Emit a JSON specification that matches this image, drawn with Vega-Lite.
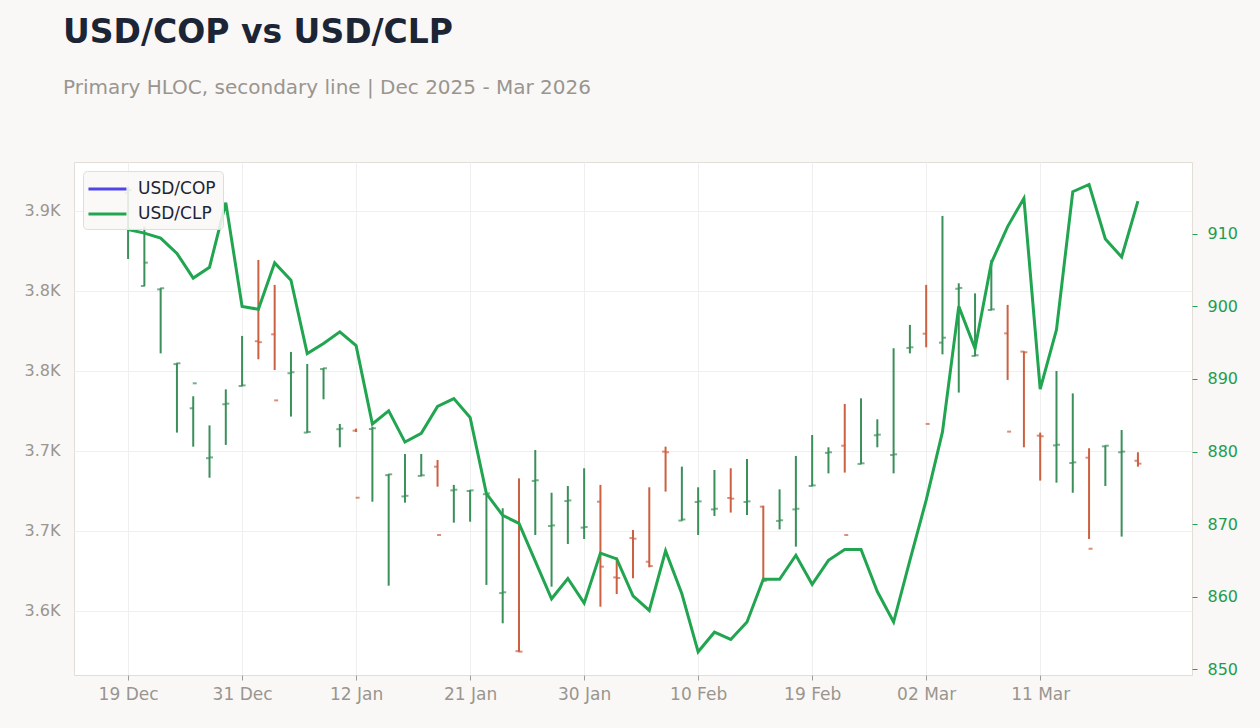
{
  "$schema": "https://vega.github.io/schema/vega-lite/v6.json",
  "width": 1118,
  "height": 513,
  "autosize": {"type": "none"},
  "padding": {"left": 74, "top": 162, "right": 68, "bottom": 53},
  "background": "#f9f8f6",
  "title": {
    "text": "USD/COP vs USD/CLP",
    "subtitle": "Primary HLOC, secondary line | Dec 2025 - Mar 2026",
    "anchor": "start",
    "frame": "group",
    "dx": -11,
    "offset": 64,
    "font": "DejaVu Sans",
    "fontSize": 33,
    "fontWeight": "bold",
    "color": "#1c2535",
    "subtitleFont": "DejaVu Sans",
    "subtitleFontSize": 20,
    "subtitleColor": "#9a958f",
    "subtitlePadding": 28
  },
  "config": {
    "view": {"fill": "#ffffff", "stroke": "#e2ded7", "strokeWidth": 1},
    "font": "DejaVu Sans"
  },
  "data": {
    "values": [
      {"date": "2025-12-19", "open": 3911.3, "high": 3915.2, "low": 3870.0, "close": 3913.1, "clp": 910.6},
      {"date": "2025-12-22", "open": 3853.1, "high": 3890.2, "low": 3853.1, "close": 3867.7, "clp": 910.1},
      {"date": "2025-12-23", "open": 3851.0, "high": 3851.7, "low": 3811.0, "close": 3851.7, "clp": 909.4},
      {"date": "2025-12-24", "open": 3804.3, "high": 3804.8, "low": 3761.5, "close": 3804.8, "clp": 907.3},
      {"date": "2025-12-26", "open": 3776.7, "high": 3784.2, "low": 3752.7, "close": 3792.3, "clp": 903.9},
      {"date": "2025-12-29", "open": 3745.5, "high": 3766.0, "low": 3733.3, "close": 3746.0, "clp": 905.4},
      {"date": "2025-12-30", "open": 3779.2, "high": 3788.5, "low": 3753.8, "close": 3779.6, "clp": 914.3},
      {"date": "2025-12-31", "open": 3790.6, "high": 3821.9, "low": 3790.6, "close": 3791.0, "clp": 900.0},
      {"date": "2026-01-02", "open": 3818.6, "high": 3869.4, "low": 3807.3, "close": 3818.0, "clp": 899.6},
      {"date": "2026-01-05", "open": 3822.9, "high": 3853.8, "low": 3800.6, "close": 3781.6, "clp": 906.0},
      {"date": "2026-01-06", "open": 3798.6, "high": 3811.9, "low": 3771.5, "close": 3799.2, "clp": 903.6},
      {"date": "2026-01-07", "open": 3761.5, "high": 3804.4, "low": 3761.5, "close": 3761.9, "clp": 893.5},
      {"date": "2026-01-08", "open": 3801.2, "high": 3801.7, "low": 3782.3, "close": 3801.7, "clp": 894.9},
      {"date": "2026-01-09", "open": 3763.6, "high": 3766.9, "low": 3752.3, "close": 3764.0, "clp": 896.5},
      {"date": "2026-01-12", "open": 3762.7, "high": 3764.0, "low": 3761.9, "close": 3720.8, "clp": 894.6},
      {"date": "2026-01-13", "open": 3763.7, "high": 3765.2, "low": 3718.3, "close": 3764.2, "clp": 883.8},
      {"date": "2026-01-14", "open": 3734.9, "high": 3735.4, "low": 3665.8, "close": 3735.4, "clp": 885.6},
      {"date": "2026-01-15", "open": 3721.6, "high": 3748.1, "low": 3717.7, "close": 3722.0, "clp": 881.3},
      {"date": "2026-01-16", "open": 3734.4, "high": 3748.1, "low": 3734.4, "close": 3734.8, "clp": 882.5},
      {"date": "2026-01-19", "open": 3740.2, "high": 3744.4, "low": 3727.7, "close": 3697.5, "clp": 886.2},
      {"date": "2026-01-20", "open": 3725.4, "high": 3728.8, "low": 3705.2, "close": 3725.8, "clp": 887.3},
      {"date": "2026-01-21", "open": 3725.0, "high": 3725.6, "low": 3705.8, "close": 3725.4, "clp": 884.7},
      {"date": "2026-01-22", "open": 3723.0, "high": 3723.5, "low": 3666.3, "close": 3723.5, "clp": 874.2},
      {"date": "2026-01-23", "open": 3661.2, "high": 3714.2, "low": 3642.3, "close": 3661.7, "clp": 871.2},
      {"date": "2026-01-26", "open": 3624.9, "high": 3732.9, "low": 3624.6, "close": 3624.6, "clp": 870.1},
      {"date": "2026-01-27", "open": 3731.3, "high": 3750.6, "low": 3697.5, "close": 3731.7, "clp": 864.9},
      {"date": "2026-01-28", "open": 3703.1, "high": 3723.9, "low": 3665.2, "close": 3703.5, "clp": 859.7},
      {"date": "2026-01-29", "open": 3718.7, "high": 3728.1, "low": 3691.9, "close": 3719.1, "clp": 862.5},
      {"date": "2026-01-30", "open": 3702.1, "high": 3739.2, "low": 3695.0, "close": 3702.5, "clp": 859.1},
      {"date": "2026-02-02", "open": 3718.3, "high": 3728.8, "low": 3652.7, "close": 3677.7, "clp": 866.0},
      {"date": "2026-02-03", "open": 3671.0, "high": 3683.4, "low": 3660.6, "close": 3670.6, "clp": 865.2},
      {"date": "2026-02-04", "open": 3695.6, "high": 3700.6, "low": 3670.4, "close": 3695.2, "clp": 860.1},
      {"date": "2026-02-05", "open": 3680.8, "high": 3727.3, "low": 3677.3, "close": 3678.1, "clp": 858.1},
      {"date": "2026-02-06", "open": 3749.6, "high": 3752.7, "low": 3724.6, "close": 3749.2, "clp": 866.3},
      {"date": "2026-02-09", "open": 3706.5, "high": 3740.2, "low": 3706.5, "close": 3707.2, "clp": 860.4},
      {"date": "2026-02-10", "open": 3718.1, "high": 3727.3, "low": 3697.5, "close": 3718.5, "clp": 852.4},
      {"date": "2026-02-11", "open": 3713.5, "high": 3738.1, "low": 3709.4, "close": 3713.9, "clp": 855.1},
      {"date": "2026-02-12", "open": 3720.6, "high": 3739.2, "low": 3711.5, "close": 3720.2, "clp": 854.1},
      {"date": "2026-02-13", "open": 3718.1, "high": 3745.0, "low": 3710.0, "close": 3718.5, "clp": 856.5},
      {"date": "2026-02-16", "open": 3715.2, "high": 3715.8, "low": 3668.3, "close": 3668.8, "clp": 862.4},
      {"date": "2026-02-17", "open": 3706.3, "high": 3726.0, "low": 3701.0, "close": 3706.7, "clp": 862.4},
      {"date": "2026-02-18", "open": 3713.5, "high": 3746.9, "low": 3690.2, "close": 3713.9, "clp": 865.7},
      {"date": "2026-02-19", "open": 3728.1, "high": 3760.0, "low": 3728.1, "close": 3728.5, "clp": 861.7},
      {"date": "2026-02-20", "open": 3748.8, "high": 3752.3, "low": 3736.0, "close": 3749.2, "clp": 865.0},
      {"date": "2026-02-23", "open": 3753.3, "high": 3779.4, "low": 3736.5, "close": 3697.5, "clp": 866.5},
      {"date": "2026-02-24", "open": 3741.9, "high": 3782.9, "low": 3741.9, "close": 3742.3, "clp": 866.5},
      {"date": "2026-02-25", "open": 3759.8, "high": 3769.8, "low": 3752.3, "close": 3760.2, "clp": 860.7},
      {"date": "2026-02-26", "open": 3747.5, "high": 3814.2, "low": 3736.0, "close": 3747.9, "clp": 856.5},
      {"date": "2026-02-27", "open": 3814.4, "high": 3828.8, "low": 3811.0, "close": 3814.8, "clp": 865.0},
      {"date": "2026-03-02", "open": 3823.3, "high": 3853.8, "low": 3814.8, "close": 3766.9, "clp": 873.3},
      {"date": "2026-03-03", "open": 3817.7, "high": 3896.9, "low": 3810.4, "close": 3820.8, "clp": 882.7},
      {"date": "2026-03-04", "open": 3851.4, "high": 3854.8, "low": 3786.5, "close": 3851.9, "clp": 900.0},
      {"date": "2026-03-05", "open": 3809.4, "high": 3848.5, "low": 3809.4, "close": 3809.8, "clp": 894.2},
      {"date": "2026-03-06", "open": 3838.1, "high": 3869.4, "low": 3838.1, "close": 3838.5, "clp": 906.0},
      {"date": "2026-03-09", "open": 3823.5, "high": 3841.3, "low": 3794.4, "close": 3762.1, "clp": 911.0},
      {"date": "2026-03-10", "open": 3812.1, "high": 3812.1, "low": 3752.3, "close": 3811.7, "clp": 914.9},
      {"date": "2026-03-11", "open": 3759.6, "high": 3761.5, "low": 3731.5, "close": 3759.2, "clp": 888.6},
      {"date": "2026-03-12", "open": 3753.5, "high": 3800.0, "low": 3730.2, "close": 3753.9, "clp": 896.8},
      {"date": "2026-03-13", "open": 3742.5, "high": 3786.0, "low": 3723.9, "close": 3742.9, "clp": 915.8},
      {"date": "2026-03-16", "open": 3745.8, "high": 3751.7, "low": 3695.0, "close": 3688.9, "clp": 916.8},
      {"date": "2026-03-17", "open": 3752.9, "high": 3753.3, "low": 3728.1, "close": 3753.3, "clp": 909.3},
      {"date": "2026-03-18", "open": 3749.2, "high": 3763.1, "low": 3696.5, "close": 3749.6, "clp": 906.8},
      {"date": "2026-03-19", "open": 3743.9, "high": 3749.2, "low": 3740.2, "close": 3742.1, "clp": 914.5}
    ]
  },
  "encoding": {
    "x": {
      "field": "date",
      "type": "ordinal",
      "sort": null,
      "scale": {
        "type": "point",
        "padding": 0.32,
        "domain": [
          "pad-1", "pad-2", "pad-3",
          "2025-12-19", "2025-12-22", "2025-12-23", "2025-12-24", "2025-12-26", "2025-12-29", "2025-12-30", "2025-12-31",
          "2026-01-02", "2026-01-05", "2026-01-06", "2026-01-07", "2026-01-08", "2026-01-09", "2026-01-12", "2026-01-13",
          "2026-01-14", "2026-01-15", "2026-01-16", "2026-01-19", "2026-01-20", "2026-01-21", "2026-01-22", "2026-01-23",
          "2026-01-26", "2026-01-27", "2026-01-28", "2026-01-29", "2026-01-30", "2026-02-02", "2026-02-03", "2026-02-04",
          "2026-02-05", "2026-02-06", "2026-02-09", "2026-02-10", "2026-02-11", "2026-02-12", "2026-02-13", "2026-02-16",
          "2026-02-17", "2026-02-18", "2026-02-19", "2026-02-20", "2026-02-23", "2026-02-24", "2026-02-25", "2026-02-26",
          "2026-02-27", "2026-03-02", "2026-03-03", "2026-03-04", "2026-03-05", "2026-03-06", "2026-03-09", "2026-03-10",
          "2026-03-11", "2026-03-12", "2026-03-13", "2026-03-16", "2026-03-17", "2026-03-18", "2026-03-19",
          "pad-4", "pad-5", "pad-6"
        ]
      },
      "axis": {
        "values": ["2025-12-19", "2025-12-31", "2026-01-12", "2026-01-21", "2026-01-30", "2026-02-10", "2026-02-19", "2026-03-02", "2026-03-11"],
        "labelExpr": "timeFormat(toDate(datum.value + 'T12:00:00'), '%d %b')",
        "title": null,
        "grid": true,
        "gridColor": "#efefef",
        "domain": false,
        "ticks": true,
        "tickColor": "#a09a94",
        "tickSize": 5,
        "labelColor": "#9a958f",
        "labelFont": "DejaVu Sans",
        "labelFontSize": 17,
        "labelPadding": 6,
        "labelAngle": 0
      }
    }
  },
  "layer": [
    {
      "layer": [
        {
          "mark": {"type": "rule", "strokeWidth": 2},
          "encoding": {
            "y": {
              "field": "low",
              "type": "quantitative",
              "scale": {"domain": [3610, 3930.6], "nice": false, "zero": false},
              "axis": {
                "orient": "left",
                "values": [3650, 3700, 3750, 3800, 3850, 3900],
                "labelExpr": "format(floor(datum.value / 100) / 10, '.1f') + 'K'",
                "title": null,
                "grid": true,
                "gridColor": "#efefef",
                "domain": false,
                "ticks": false,
                "labelColor": "#9a958f",
                "labelFont": "DejaVu Sans",
                "labelFontSize": 16,
                "labelPadding": 14
              }
            },
            "y2": {"field": "high"},
            "color": {"condition": {"test": "datum.close >= datum.open", "value": "#3a8f5a"}, "value": "#cc6040"}
          }
        },
        {
          "mark": {"type": "tick", "xOffset": -1.5, "size": 4, "thickness": 2},
          "encoding": {
            "y": {
              "field": "open",
              "type": "quantitative",
              "scale": {"domain": [3610, 3930.6], "nice": false, "zero": false},
              "axis": {
                "orient": "left",
                "values": [3650, 3700, 3750, 3800, 3850, 3900],
                "labelExpr": "format(floor(datum.value / 100) / 10, '.1f') + 'K'",
                "title": null,
                "grid": true,
                "gridColor": "#efefef",
                "domain": false,
                "ticks": false,
                "labelColor": "#9a958f",
                "labelFont": "DejaVu Sans",
                "labelFontSize": 16,
                "labelPadding": 14
              }
            },
            "color": {"condition": {"test": "datum.close >= datum.open", "value": "#3a8f5a"}, "value": "#cc6040"}
          }
        },
        {
          "mark": {"type": "tick", "xOffset": 1.5, "size": 4, "thickness": 2},
          "encoding": {
            "y": {
              "field": "close",
              "type": "quantitative",
              "scale": {"domain": [3610, 3930.6], "nice": false, "zero": false},
              "axis": {
                "orient": "left",
                "values": [3650, 3700, 3750, 3800, 3850, 3900],
                "labelExpr": "format(floor(datum.value / 100) / 10, '.1f') + 'K'",
                "title": null,
                "grid": true,
                "gridColor": "#efefef",
                "domain": false,
                "ticks": false,
                "labelColor": "#9a958f",
                "labelFont": "DejaVu Sans",
                "labelFontSize": 16,
                "labelPadding": 14
              }
            },
            "color": {"condition": {"test": "datum.close >= datum.open", "value": "#3a8f5a"}, "value": "#cc6040"}
          }
        }
      ]
    },
    {
      "mark": {"type": "line", "strokeWidth": 3, "interpolate": "linear"},
      "encoding": {
        "y": {
          "field": "clp",
          "type": "quantitative",
          "scale": {"domain": [849.2, 919.9], "nice": false, "zero": false},
          "axis": {
            "orient": "right",
            "values": [850, 860, 870, 880, 890, 900, 910],
            "title": null,
            "grid": false,
            "domain": false,
            "ticks": true,
            "tickColor": "#22a550",
            "tickSize": 5,
            "labelColor": "#1f9d4f",
            "labelFont": "DejaVu Sans",
            "labelFontSize": 16,
            "labelPadding": 10
          }
        },
        "color": {
          "datum": "USD/CLP",
          "type": "nominal",
          "scale": {"domain": ["USD/COP", "USD/CLP"], "range": ["#4f46e5", "#22a550"]},
          "legend": {
            "title": null,
            "orient": "top-left",
            "offset": 9,
            "symbolType": "M-1.32,0H2.68",
            "symbolSize": 361,
            "symbolStrokeWidth": 3,
            "labelFont": "DejaVu Sans",
            "labelFontSize": 17,
            "labelColor": "#1c2535",
            "labelOffset": 26,
            "fillColor": "rgba(249,248,246,0.88)",
            "strokeColor": "#e2ded7",
            "cornerRadius": 4,
            "padding": 7,
            "rowPadding": 6
          }
        }
      }
    }
  ],
  "resolve": {"scale": {"y": "independent"}}
}
